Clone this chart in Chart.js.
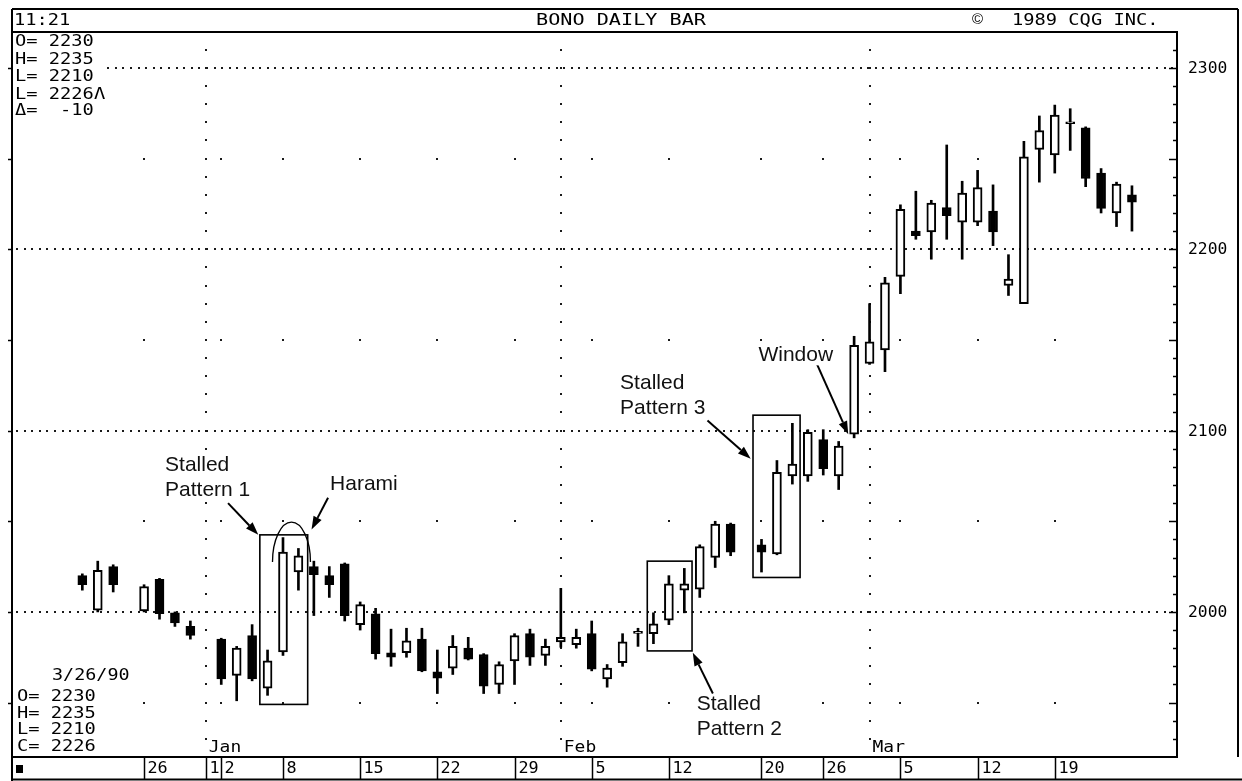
<!DOCTYPE html>
<html>
<head>
<meta charset="utf-8">
<title>BONO DAILY BAR</title>
<script src="https://cdn.jsdelivr.net/npm/chart.js@4.4.1/dist/chart.umd.min.js"></script>
<style>
  html, body { margin: 0; padding: 0; background: #fff; overflow: hidden; }
  canvas { display: block; }
</style>
</head>
<body>
<canvas id="chart" width="1242" height="781"></canvas>
<script>
// Trading sessions (weekdays; holidays kept as empty slots)
const sessions = [
  'Dec 20','Dec 21','Dec 22','Dec 25','Dec 26','Dec 27','Dec 28','Dec 29',
  'Jan 1','Jan 2','Jan 3','Jan 4','Jan 5','Jan 8','Jan 9','Jan 10','Jan 11','Jan 12',
  'Jan 15','Jan 16','Jan 17','Jan 18','Jan 19','Jan 22','Jan 23','Jan 24','Jan 25','Jan 26',
  'Jan 29','Jan 30','Jan 31','Feb 1','Feb 2','Feb 5','Feb 6','Feb 7','Feb 8','Feb 9',
  'Feb 12','Feb 13','Feb 14','Feb 15','Feb 16','Feb 19','Feb 20','Feb 21','Feb 22','Feb 23',
  'Feb 26','Feb 27','Feb 28','Mar 1','Mar 2','Mar 5','Mar 6','Mar 7','Mar 8','Mar 9',
  'Mar 12','Mar 13','Mar 14','Mar 15','Mar 16','Mar 19','Mar 20','Mar 21','Mar 22','Mar 23','Mar 26'
];

const openPrices = [
  2020, 2001, 2025, null, 2000.5, 2018, 1999.5, 1992,
  null, 1985, 1965, 1987, 1958, 1978, 2022, 2025, 2020, 2026.5,
  1993, 1999, 1977.5, 1977.5, 1985, 1967, 1969, 1980, 1976.5, 1960,
  1973, 1988, 1976, 1983.5, 1982, 1988, 1963, 1972, 1988.5, 1988,
  1995.5, 2012, 2012.5, 2030, 2048.5, null, 2037, 2032, 2075, 2075,
  2095, 2075, 2098, 2137, 2144.5, 2185, 2210, 2209.5, 2223, 2215,
  2215, 2221, 2180, 2170, 2255, 2252, 2269.5, 2267, 2242, 2220, 2230
];
const highPrices = [
  2021, 2028, 2026, null, 2015, 2018.5, 2000, 1995,
  null, 1985.5, 1981, 1993, 1979, 2041, 2035, 2028, 2025, 2027,
  2005.5, 2002, 1990.5, 1991, 1991, 1979, 1987, 1986, 1977, 1972.5,
  1988, 1990.5, 1985, 2013, 1990.5, 1995, 1971, 1988, 1991, 1999.5,
  2020, 2024, 2037, 2050, 2049, null, 2040, 2083.5, 2104, 2100.5,
  2100.5, 2094, 2152, 2170, 2184.5, 2224.5, 2232, 2227, 2257.5, 2237.5,
  2243.5, 2235.5, 2197, 2259.5, 2273.5, 2279.5, 2277.5, 2267.5, 2244.5, 2237, 2235
];
const lowPrices = [
  2012, 2000, 2011, null, 2000, 1996, 1992, 1985,
  null, 1960, 1951, 1962, 1954, 1976, 2012, 1998, 2008, 1995,
  1990, 1974, 1970, 1975, 1967, 1955, 1965.5, 1973.5, 1955, 1955,
  1960, 1970.5, 1970.5, 1980.5, 1980, 1967.5, 1958.5, 1970, 1981, 1982.5,
  1993, 1999.5, 2008, 2024.5, 2031, null, 2022, 2031.5, 2070.5, 2072,
  2075.5, 2067.5, 2096, 2136.5, 2132.5, 2175.5, 2205.5, 2194.5, 2205.5, 2194.5,
  2213, 2202, 2174.5, 2170, 2237, 2242, 2254.5, 2234.5, 2220, 2212.5, 2210
];
const closePrices = [
  2015, 2023, 2015, null, 2014, 1999, 1994, 1987,
  null, 1963, 1980, 1963, 1973, 2033, 2031, 2020.5, 2015, 1998,
  2004, 1977, 1975, 1984, 1967.5, 1963.5, 1981, 1974, 1959, 1971,
  1987, 1975, 1981, 1986, 1986, 1968.5, 1969, 1983.5, 1989, 1993.5,
  2015.5, 2015.5, 2036, 2048.5, 2033, null, 2033, 2077, 2081.5, 2099,
  2079, 2091.5, 2147, 2149, 2181.5, 2222, 2207.5, 2225.5, 2218.5, 2231,
  2234, 2209.5, 2183.5, 2251, 2265.5, 2274, 2270, 2239, 2222.5, 2236, 2226
];

// Axis labelling
const priceLabels = [2000, 2100, 2200, 2300];
const weekStarts = [4, 8, 9, 13, 18, 23, 28, 33, 38, 44, 48, 53, 58, 63];
const weekLabels = ['26', '1', '2', '8', '15', '22', '29', '5', '12', '20', '26', '5', '12', '19'];
const monthStarts = [8, 31, 51];
const monthLabels = ['Jan', 'Feb', 'Mar'];

// Quote panel text
const headerTime = '11:21';
const headerTitle = 'BONO DAILY BAR';
const headerCopyright = '1989 CQG INC.';
const lastQuoteTop = ['O= 2230', 'H= 2235', 'L= 2210', 'L= 2226\u039B', '\u0394=  -10'];
const lastQuoteBottom = ['O= 2230', 'H= 2235', 'L= 2210', 'C= 2226'];
const lastDate = '3/26/90';

// Pattern annotations (session index, price)
const patternBoxes = [
  { x0: 11.5, x1: 14.6, y0: 1949, y1: 2042.5 },
  { x0: 36.6, x1: 39.5, y0: 1978.5, y1: 2028 },
  { x0: 43.45, x1: 46.5, y0: 2019, y1: 2108.5 }
];
const patternArrows = [
  { from: [9.44, 2060], to: [11.4, 2042.5] },
  { from: [15.92, 2063], to: [14.85, 2045.5] },
  { from: [40.5, 2105.5], to: [43.3, 2084.5] },
  { from: [47.6, 2136.5], to: [49.62, 2098] },
  { from: [40.85, 1955], to: [39.55, 1977.5] }
];
const patternNotes = [
  { lines: ['Stalled', 'Pattern 1'], x: 5.36, y: 2081 },
  { lines: ['Harami'], x: 16.05, y: 2070.5 },
  { lines: ['Stalled', 'Pattern 3'], x: 34.84, y: 2126 },
  { lines: ['Window'], x: 43.8, y: 2141.5 },
  { lines: ['Stalled', 'Pattern 2'], x: 39.8, y: 1949 }
];
const haramiArc = { x: 13.55, y: 2027.5, rx: 1.23, ry: 22 };

// Build candle parts from the OHLC lists
const rangeBars = [];
const bodyBars = [];
const bodyColors = [];
sessions.forEach((s, i) => {
  if (openPrices[i] == null) return;
  const o = openPrices[i], c = closePrices[i];
  rangeBars.push({ x: i, y: [lowPrices[i], highPrices[i]] });
  let lo = Math.min(o, c), hi = Math.max(o, c);
  if (hi - lo < 1.1) { const m = (hi + lo) / 2; lo = m - 0.55; hi = m + 0.55; }
  bodyBars.push({ x: i, y: [lo, hi] });
  bodyColors.push(c >= o ? '#ffffff' : '#000000');
});

const MONO = '"DejaVu Sans Mono", "Liberation Mono", monospace';
const SANS = '"Liberation Sans", Arial, sans-serif';

function monoText(ctx, str, x, y, size, sx) {
  ctx.save();
  ctx.translate(x, y);
  ctx.scale(sx, 1);
  ctx.font = size + 'px ' + MONO;
  ctx.textBaseline = 'middle';
  ctx.textAlign = 'left';
  ctx.fillText(str, 0, 0);
  ctx.restore();
}

function arrow(ctx, x1, y1, x2, y2) {
  const ang = Math.atan2(y2 - y1, x2 - x1);
  const L = 13, W = 4.5;
  const bx = x2 - L * Math.cos(ang), by = y2 - L * Math.sin(ang);
  ctx.beginPath();
  ctx.moveTo(x1, y1);
  ctx.lineTo(bx, by);
  ctx.stroke();
  ctx.beginPath();
  ctx.moveTo(x2, y2);
  ctx.lineTo(bx + W * Math.sin(ang), by - W * Math.cos(ang));
  ctx.lineTo(bx - W * Math.sin(ang), by + W * Math.cos(ang));
  ctx.closePath();
  ctx.fill();
}

const chartDecor = {
  id: 'chartDecor',
  beforeDraw(chart) {
    const ctx = chart.ctx;
    ctx.save();
    ctx.fillStyle = '#fff';
    ctx.fillRect(0, 0, chart.width, chart.height);
    ctx.restore();
  },
  beforeDatasetsDraw(chart) {
    const ctx = chart.ctx;
    const xs = chart.scales.x, ys = chart.scales.y;
    const { left, right, top, bottom } = chart.chartArea;
    ctx.save();
    ctx.fillStyle = '#1a1a1a';
    // dense dotted rules at each 100 points
    priceLabels.forEach(v => {
      const y = Math.round(ys.getPixelForValue(v));
      for (let x = left + 4; x < right - 3; x += 7.6) ctx.fillRect(Math.round(x), y - 1, 2, 2);
    });
    // sparse dots at the half levels under each week start
    const cols = weekStarts.concat(monthStarts);
    [1950, 2050, 2150, 2250].forEach(v => {
      const y = Math.round(ys.getPixelForValue(v));
      cols.forEach(i => ctx.fillRect(Math.round(xs.getPixelForValue(i)) - 1, y - 1, 2, 2));
    });
    // dotted month dividers, one dot per 10 points
    monthStarts.forEach(i => {
      const x = Math.round(xs.getPixelForValue(i));
      for (let v = 1930; v <= 2310; v += 10) {
        const y = Math.round(ys.getPixelForValue(v));
        ctx.fillRect(x - 1, y - 1, 2, 2);
      }
    });
    ctx.restore();
  },
  afterDatasetsDraw(chart) {
    const ctx = chart.ctx;
    const xs = chart.scales.x, ys = chart.scales.y;
    const { left, right, top, bottom } = chart.chartArea;
    const W = chart.width, H = chart.height;
    ctx.save();
    ctx.strokeStyle = '#000';
    ctx.fillStyle = '#000';

    // pattern boxes
    ctx.lineWidth = 1.6;
    patternBoxes.forEach(b => {
      const x0 = xs.getPixelForValue(b.x0), x1 = xs.getPixelForValue(b.x1);
      const y0 = ys.getPixelForValue(b.y0), y1 = ys.getPixelForValue(b.y1);
      ctx.strokeRect(x0, y1, x1 - x0, y0 - y1);
    });

    // harami arc
    ctx.lineWidth = 1.3;
    const acx = xs.getPixelForValue(haramiArc.x), acy = ys.getPixelForValue(haramiArc.y);
    const arx = xs.getPixelForValue(haramiArc.x + haramiArc.rx) - acx;
    const ary = acy - ys.getPixelForValue(haramiArc.y + haramiArc.ry);
    ctx.beginPath();
    ctx.ellipse(acx, acy, arx, ary, 0, Math.PI, Math.PI * 2);
    ctx.stroke();

    // arrows
    ctx.lineWidth = 2;
    patternArrows.forEach(a => {
      arrow(ctx,
        xs.getPixelForValue(a.from[0]), ys.getPixelForValue(a.from[1]),
        xs.getPixelForValue(a.to[0]), ys.getPixelForValue(a.to[1]));
    });

    // notes, each on a small white patch so grid dots do not show through
    ctx.font = '21px ' + SANS;
    ctx.textBaseline = 'middle';
    ctx.textAlign = 'left';
    patternNotes.forEach(n => {
      const x = xs.getPixelForValue(n.x), y = ys.getPixelForValue(n.y);
      n.lines.forEach((t, k) => {
        const w = ctx.measureText(t).width;
        ctx.fillStyle = '#fff';
        ctx.fillRect(x - 1, y + k * 25 - 10, w + 4, 20);
        ctx.fillStyle = '#111';
        ctx.fillText(t, x, y + k * 25);
      });
    });
    ctx.fillStyle = '#000';

    // quote panel (top left) sits on a cleared patch
    ctx.fillStyle = '#fff';
    ctx.fillRect(left + 2, top + 3, 92, 85);
    ctx.fillStyle = '#000';
    const topRows = [42, 59.5, 77, 94.5, 111];
    lastQuoteTop.forEach((t, k) => monoText(ctx, t, 15, topRows[k], 16, 1.17));

    // quote panel (bottom left)
    monoText(ctx, lastDate, 52, 676, 16, 1.15);
    const botRows = [697, 713.5, 730, 747];
    lastQuoteBottom.forEach((t, k) => monoText(ctx, t, 17, botRows[k], 16, 1.17));

    // month names
    monthStarts.forEach((i, k) => {
      const x = xs.getPixelForValue(i);
      monoText(ctx, monthLabels[k], x + 3, 748, 16, 1.12);
    });

    // border ticks every 10 points
    ctx.lineWidth = 1.5;
    for (let v = 1930; v <= 2310; v += 10) {
      const y = Math.round(ys.getPixelForValue(v)) + 0.5;
      const len = (v % 50 === 0) ? 8 : 4;
      ctx.beginPath();
      ctx.moveTo(right, y); ctx.lineTo(right - len, y);
      ctx.stroke();
      if (v % 50 === 0) {
        ctx.beginPath();
        ctx.moveTo(left, y); ctx.lineTo(left - 4, y);
        ctx.stroke();
      }
    }

    // plot frame
    ctx.lineWidth = 2;
    ctx.strokeRect(left, top, right - left, bottom - top);

    // outer frame and header bar
    ctx.beginPath();
    ctx.moveTo(left, 9); ctx.lineTo(W - 4, 9);
    ctx.moveTo(W - 4, 9); ctx.lineTo(W - 4, bottom);
    ctx.moveTo(left, 9); ctx.lineTo(left, H);
    ctx.moveTo(left, H - 1.5); ctx.lineTo(W, H - 1.5);
    ctx.stroke();

    monoText(ctx, headerTime, 14, 21, 16, 1.17);
    ctx.save();
    ctx.translate(W / 2, 21);
    ctx.scale(1.26, 1);
    ctx.font = '16px ' + MONO;
    ctx.textAlign = 'center';
    ctx.textBaseline = 'middle';
    ctx.fillText(headerTitle, 0, 0);
    ctx.restore();
    ctx.font = '15px ' + SANS;
    ctx.textBaseline = 'middle';
    ctx.fillText('\u00A9', 972, 20);
    monoText(ctx, headerCopyright, 1012, 21, 16, 1.17);

    // price labels on the right
    priceLabels.forEach(v => {
      monoText(ctx, String(v), right + 11, ys.getPixelForValue(v) + 1, 16, 1.02);
    });

    // date strip
    ctx.fillRect(16, 765, 7, 8);
    ctx.lineWidth = 1.5;
    weekStarts.forEach((i, k) => {
      const x = Math.round(xs.getPixelForValue(i)) + 0.5;
      ctx.beginPath();
      ctx.moveTo(x, bottom); ctx.lineTo(x, H - 1);
      ctx.stroke();
      monoText(ctx, weekLabels[k], x + 3, 769, 16, 1.05);
    });

    ctx.restore();
  }
};

const X_MIN = -4.556, X_MAX = 70.918;
const Y_MIN = 1920, Y_MAX = 2319.8;

new Chart(document.getElementById('chart'), {
  type: 'bar',
  data: {
    datasets: [
      {
        label: 'Open/Close',
        data: bodyBars,
        backgroundColor: bodyColors,
        borderColor: '#000',
        borderWidth: 2,
        borderSkipped: false,
        barThickness: 9,
        grouped: false,
        order: 0
      },
      {
        label: 'High/Low',
        data: rangeBars,
        backgroundColor: '#000',
        borderWidth: 0,
        barThickness: 2,
        grouped: false,
        order: 1
      }
    ]
  },
  options: {
    responsive: false,
    animation: false,
    layout: { padding: { left: 12, right: 65, top: 32, bottom: 24 } },
    plugins: { legend: { display: false }, tooltip: { enabled: false } },
    scales: {
      x: { type: 'linear', min: X_MIN, max: X_MAX, display: false, offset: false },
      y: { type: 'linear', min: Y_MIN, max: Y_MAX, display: false }
    }
  },
  plugins: [chartDecor]
});
</script>
</body>
</html>
